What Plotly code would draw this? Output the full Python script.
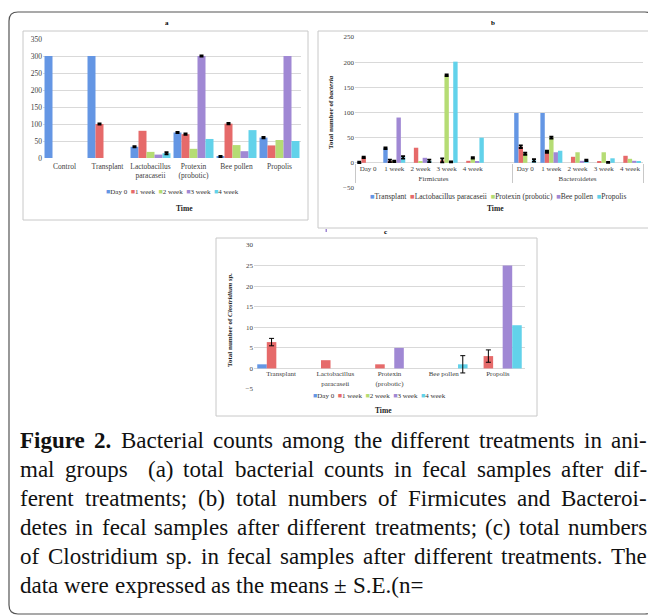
import plotly.graph_objects as go

# the page body keeps an 8px margin, so the figure is drawn 8px in from the corner
OFF = 8
W, H = 656 - OFF, 616 - OFF
def px(x): return (x - OFF) / W
def py(y): return 1 - (y - OFF) / H

SERIF = "Liberation Serif"
TICK = "#404040"
GRID = "#D9D9D9"
FRAME = "#C8C8C8"

# ---------------- data ----------------
time_names = ["Day 0", "1 week", "2 week", "3 week", "4 week"]
time_colors = ["#6496E4", "#E66A6A", "#B5DC74", "#A088D4", "#62D2EA"]

# panel a : total bacterial counts
a_categories = ["Control", "Transplant", "Lactobacillus<br>paracaseii",
                "Protexin<br>(probotic)", "Bee pollen", "Propolis"]
a_day0 = [300, 300, 33, 75, 4, 60]
a_week1 = [0, 100, 80, 70, 101, 37]
a_week2 = [0, 0, 18, 27, 38, 53]
a_week3 = [0, 0, 10, 300, 20, 300]
a_week4 = [0, 0, 14, 56, 82, 50]
a_err_day0 = [None, None, 2, 2, 2, 2]
a_err_week1 = [None, 2, None, 2, 2, None]
a_err_week2 = [None, None, None, None, None, None]
a_err_week3 = [None, None, None, 2, None, None]
a_err_week4 = [None, None, 3, None, None, None]

# panel b : Firmicutes / Bacteroidetes
b_series = ["Transplant", "Lactobacillus paracaseii", "Protexin (probotic)", "Bee pollen", "Propolis"]
b_groups = ["Firmicutes", "Bacteroidetes"]
b_times = ["Day 0", "1 week", "2 week", "3 week", "4 week"]
b_transplant_firm = [1, 29, 0, 0, 0]
b_lacto_firm = [11, 4, 30, 5, 4]
b_protexin_firm = [0, 3, 3, 174, 10]
b_bee_firm = [0, 90, 10, 2, 3]
b_propolis_firm = [0, 11, 4, 201, 50]
b_transplant_bact = [99, 99, 0, 0, 0]
b_lacto_bact = [32, 22, 12, 2.5, 14]
b_protexin_bact = [18, 50, 21, 21, 8]
b_bee_bact = [0, 21, 4, 1, 4]
b_propolis_bact = [5, 24, 5, 9, 3.5]
b_err_transplant_firm = [1.5, 1.5, None, None, None]
b_err_lacto_firm = [1.5, 2.5, None, 4, None]
b_err_protexin_firm = [None, 1.5, None, 1.5, 1.5]
b_err_bee_firm = [None, None, None, 1, None]
b_err_propolis_firm = [None, 2.5, 2.5, None, None]
b_err_transplant_bact = [None, None, None, None, None]
b_err_lacto_bact = [2.5, 2, None, None, None]
b_err_protexin_bact = [2, 2, None, None, None]
b_err_bee_bact = [None, None, None, 1, None]
b_err_propolis_bact = [2.5, None, 1.5, None, None]

# panel c : Clostridium sp.
c_categories = ["Transplant", "Lactobacillus<br>paracaseii", "Protexin<br>(probotic)",
                "Bee pollen", "Propolis"]
c_day0 = [1, 0, 0, 0, 0]
c_week1 = [6.4, 2, 1, 0, 3]
c_week2 = [0, 0, 0, 0, 0]
c_week3 = [0, 0, 5, 0, 25]
c_week4 = [0, 0, 0, 1, 10.5]
c_err_day0 = [None, None, None, None, None]
c_err_week1 = [0.9, None, None, None, 1.5]
c_err_week2 = [None, None, None, None, None]
c_err_week3 = [None, None, None, None, None]
c_err_week4 = [None, None, None, 2.1, None]

caption_lines = [
    "Figure 2. Bacterial counts among the different treatments in ani-",
    "mal groups  (a) total bacterial counts in fecal samples after dif-",
    "ferent treatments; (b) total numbers of Firmicutes and Bacteroi-",
    "detes in fecal samples after different treatments; (c) total numbers",
    "of Clostridium sp. in fecal samples after different treatments. The",
    "data were expressed as the means \u00b1 S.E.(n=",
]
caption_bold_words = {"Figure", "2."}

# ---------------- figure ----------------
fig = go.Figure()

def bar_set(xaxis, yaxis, x, series_vals, series_errs, colors, gap, thick, capw):
    n = len(series_vals)
    w = (1 - gap) / n
    for i, (vals, errs, col) in enumerate(zip(series_vals, series_errs, colors)):
        off = -(1 - gap) / 2 + i * w
        fig.add_trace(go.Bar(x=x, y=vals, xaxis=xaxis, yaxis=yaxis, width=w, offset=off,
                             marker=dict(color=col, line=dict(width=0)),
                             showlegend=False, hoverinfo="skip"))
        ye = [v if e is not None else None for v, e in zip(vals, errs)]
        fig.add_trace(go.Bar(x=x, y=ye, xaxis=xaxis, yaxis=yaxis, width=w, offset=off,
                             marker=dict(color="rgba(0,0,0,0)", line=dict(width=0)),
                             error_y=dict(type="data", array=[e if e is not None else 0 for e in errs],
                                          visible=True, color="black", thickness=thick, width=capw),
                             showlegend=False, hoverinfo="skip"))

# panel a
bar_set("x", "y", a_categories,
        [a_day0, a_week1, a_week2, a_week3, a_week4],
        [a_err_day0, a_err_week1, a_err_week2, a_err_week3, a_err_week4],
        time_colors, 0.07, 1.8, 2)

# panel b
bx_groups, bx_times = [], []
for g in b_groups:
    for t in b_times:
        bx_groups.append(g)
        bx_times.append(t)
    if g == b_groups[0]:
        bx_groups.append(g)
        bx_times.append(" ")

def b_row(firm, bact):
    return list(firm) + [None] + list(bact)

b_vals = [b_row(b_transplant_firm, b_transplant_bact), b_row(b_lacto_firm, b_lacto_bact),
          b_row(b_protexin_firm, b_protexin_bact), b_row(b_bee_firm, b_bee_bact),
          b_row(b_propolis_firm, b_propolis_bact)]
b_errs = [b_row(b_err_transplant_firm, b_err_transplant_bact), b_row(b_err_lacto_firm, b_err_lacto_bact),
          b_row(b_err_protexin_firm, b_err_protexin_bact), b_row(b_err_bee_firm, b_err_bee_bact),
          b_row(b_err_propolis_firm, b_err_propolis_bact)]
bar_set("x2", "y2", [bx_groups, bx_times], b_vals, b_errs, time_colors, 0.16, 1.8, 2)

# panel c
bar_set("x3", "y3", c_categories,
        [c_day0, c_week1, c_week2, c_week3, c_week4],
        [c_err_day0, c_err_week1, c_err_week2, c_err_week3, c_err_week4],
        time_colors, 0.12, 1, 2.5)

# axes geometry
a_dom_y = [py(158), py(39)]
b_dom_y = [py(188), py(37)]
c_dom_y = [py(389), py(245)]
b_range = [-50, 250]
c_range = [-5, 30]
def zero_pos(dom, rng):
    return dom[0] + (dom[1] - dom[0]) * (0 - rng[0]) / (rng[1] - rng[0])

tf = lambda s: dict(family=SERIF, size=s, color=TICK)

fig.update_layout(
    width=W, height=H, margin=dict(l=0, r=0, t=0, b=0),
    paper_bgcolor="white", plot_bgcolor="white",
    barmode="overlay", showlegend=False,
    xaxis=dict(domain=[px(43), px(301)], anchor="y", showgrid=False, showline=False, ticks="",
               tickfont=tf(7.5), automargin=False, ticklabelstandoff=2, tickangle=0),
    yaxis=dict(domain=a_dom_y, anchor="x", range=[0, 350], dtick=50, showgrid=True, gridcolor=GRID,
               gridwidth=1, zeroline=False, ticks="", tickfont=tf(7.5), automargin=False),
    xaxis2=dict(domain=[px(355), px(643)], anchor="free", position=zero_pos(b_dom_y, b_range),
                type="multicategory", showgrid=False, showline=False, ticks="", tickangle=0,
                showdividers=True, dividercolor=FRAME, dividerwidth=1,
                tickfont=tf(7), automargin=False),
    yaxis2=dict(domain=b_dom_y, anchor="x2", range=b_range, dtick=50, showgrid=True, gridcolor=GRID,
                zeroline=False, ticks="", tickfont=tf(7), automargin=False),
    xaxis3=dict(domain=[px(254), px(525)], anchor="free", position=zero_pos(c_dom_y, c_range),
                showgrid=False, showline=False, ticks="", tickangle=0, tickfont=tf(7), automargin=False),
    yaxis3=dict(domain=c_dom_y, anchor="x3", range=c_range, dtick=5, showgrid=True, gridcolor=GRID,
                zeroline=False, ticks="", tickfont=tf(7), automargin=False),
)

ann = []
def note(x, y, text, size=7, bold=False, color="#222", angle=0, xanchor="center"):
    ann.append(dict(x=px(x), y=py(y), xref="paper", yref="paper", text=("<b>%s</b>" % text) if bold else text,
                    showarrow=False, font=dict(family=SERIF, size=size, color=color),
                    textangle=angle, xanchor=xanchor, yanchor="middle", borderpad=0, borderwidth=0))

# titles
note(167, 23, "a", 7, True, "#000")
note(493, 23, "b", 7, True, "#000")
note(385, 232, "c", 7, True, "#000")
# axis titles
note(184, 208, "Time", 7.5, True, "#222")
note(495, 208, "Time", 7.5, True, "#222")
note(383, 410, "Time", 7.5, True, "#222")
note(331, 112, "Total number of <i>bacteria</i>", 7, True, "#222", -90)
note(230, 320, "Total number of <i>Clostridium sp.</i>", 7, True, "#222", -90)

# legends (text with coloured squares)
def legend_text(names, colors):
    return "\u00a0\u00a0".join('<span style="color:%s">\u25a0</span>%s' % (c, n) for n, c in zip(names, colors))
note(172, 192, legend_text(time_names, time_colors), 7, False, "#333")
note(498, 196, legend_text(b_series, time_colors), 7.5, False, "#333")
note(379, 396, legend_text(time_names, time_colors), 7, False, "#333")

# caption (justified by word placement, Times metrics)
TREG = {' ': 250, 'a': 444, 'b': 500, 'c': 444, 'd': 500, 'e': 444, 'f': 333, 'g': 500, 'h': 500,
        'i': 278, 'j': 278, 'k': 500, 'l': 278, 'm': 778, 'n': 500, 'o': 500, 'p': 500, 'q': 500,
        'r': 333, 's': 389, 't': 278, 'u': 500, 'v': 500, 'w': 722, 'x': 500, 'y': 500, 'z': 444,
        'B': 667, 'C': 667, 'E': 611, 'F': 556, 'S': 556, 'T': 611, '(': 333, ')': 333, ';': 278,
        '.': 250, ',': 250, '-': 333, '=': 564, '\u00b1': 564}
TBOLD = {'F': 611, 'i': 278, 'g': 500, 'u': 556, 'r': 444, 'e': 444, '2': 500, '.': 250}
CFS = 23
def tw(s, bold=False):
    tbl = TBOLD if bold else TREG
    return sum(tbl.get(ch, 500) for ch in s) * CFS / 1000.0

LX, RX = 20, 647
for li, line in enumerate(caption_lines):
    yc = 440 + 29 * li
    toks = line.split(" ")
    widths = [tw(t, li == 0 and t in caption_bold_words) for t in toks]
    if li < len(caption_lines) - 1:
        gap = (RX - LX - sum(widths)) / (len(toks) - 1)
    else:
        gap = tw(" ")
    x = LX
    for t, wdt in zip(toks, widths):
        if t:
            b = li == 0 and t in caption_bold_words
            ann.append(dict(x=px(x), y=py(yc), xref="paper", yref="paper",
                            text=("<b>%s</b>" % t) if b else t, showarrow=False,
                            font=dict(family=SERIF, size=CFS, color="#111"),
                            xanchor="left", yanchor="middle", borderpad=0, borderwidth=0))
        x += wdt + gap

fig.update_layout(annotations=ann)

# frames and border
def rect(x0, y0, x1, y1, color=FRAME, width=1):
    return dict(type="rect", xref="paper", yref="paper", x0=px(x0), x1=px(x1), y0=py(y1), y1=py(y0),
                line=dict(color=color, width=width), fillcolor="rgba(0,0,0,0)", layer="below")

def rounded(x0, y0, x1, y1, r):
    P = lambda x, y: "%.5f,%.5f" % (px(x), py(y))
    return ("M" + P(x0 + r, y0) + " L" + P(x1 - r, y0) + " Q" + P(x1, y0) + " " + P(x1, y0 + r) +
            " L" + P(x1, y1 - r) + " Q" + P(x1, y1) + " " + P(x1 - r, y1) +
            " L" + P(x0 + r, y1) + " Q" + P(x0, y1) + " " + P(x0, y1 - r) +
            " L" + P(x0, y0 + r) + " Q" + P(x0, y0) + " " + P(x0 + r, y0) + " Z")

shapes = [
    rect(23, 31, 308, 220),
    rect(318, 31, 650, 228),
    rect(216, 238, 537, 416),
    dict(type="path", xref="paper", yref="paper", path=rounded(9, 12, 654, 614, 9),
         line=dict(color="#555555", width=1.2)),
    dict(type="rect", xref="paper", yref="paper", x0=px(325.5), x1=px(327), y0=py(232), y1=py(229),
         line=dict(width=0), fillcolor="#A088D4"),
]
fig.update_layout(shapes=shapes)

fig.write_html("out.html")
